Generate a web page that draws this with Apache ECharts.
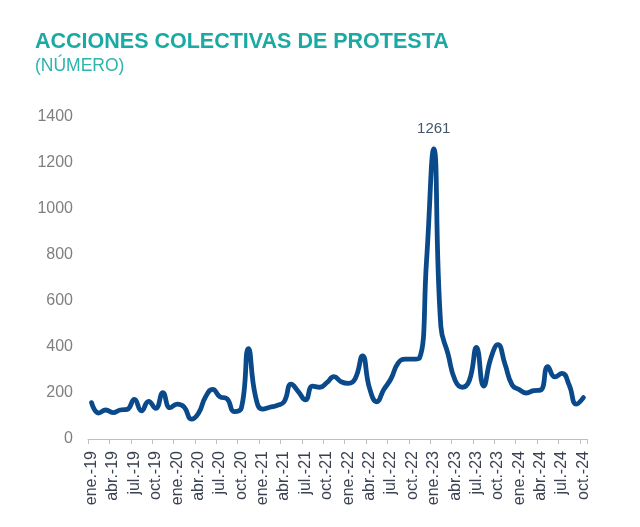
<!DOCTYPE html>
<html>
<head>
<meta charset="utf-8">
<script src="https://cdn.jsdelivr.net/npm/echarts@6/dist/echarts.min.js"></script>
<style>
html,body{margin:0;padding:0;background:#fff;}
#c{width:640px;height:527px;}
</style>
</head>
<body>
<div id="c"></div>
<script>
const months = ['ene.','feb.','mar.','abr.','may.','jun.','jul.','ago.','sep.','oct.','nov.','dic.'];
const years = ['19','20','21','22','23','24'];
const categories = [];
for (const y of years) for (const m of months) categories.push(m + '-' + y);
categories.length = 70; // ene.-19 .. oct.-24

const protestas = [
  158,113,126,115,126,129,172,122,164,133,201,136,
  152,139,86,112,184,216,184,175,119,133,393,185,
  130,138,146,162,239,206,170,230,225,245,271,249,
  242,264,361,220,162,215,262,330,347,347,352,780,
  1261,490,370,255,225,255,398,230,350,410,325,235,
  215,200,210,213,315,270,285,235,152,180
];
const yTicks = [0,200,400,600,800,1000,1200,1400];

const chart = echarts.init(document.getElementById('c'), null, {renderer: 'canvas'});
chart.setOption({
  animation: false,
  backgroundColor: '#ffffff',
  title: [
    {text: 'ACCIONES COLECTIVAS DE PROTESTA', left: 30, top: 26,
     textStyle: {color: '#1aa9a3', fontSize: 21.5, fontWeight: 'bold', fontFamily: 'Liberation Sans'}},
    {text: '(NÚMERO)', left: 30, top: 52,
     textStyle: {color: '#2fb3ad', fontSize: 17.5, fontWeight: 'normal', fontFamily: 'Liberation Sans'}}
  ],
  grid: {left: 88, right: 53, top: 117, bottom: 88},
  xAxis: {
    type: 'category',
    data: categories,
    boundaryGap: true,
    axisLine: {lineStyle: {color: '#bfbfbf', width: 1}},
    axisTick: {show: true, interval: 2, length: 5, lineStyle: {color: '#bfbfbf'}},
    axisLabel: {interval: 2, rotate: 90, color: '#3a4150', fontSize: 16, margin: 12, fontFamily: 'Liberation Sans'},
    splitLine: {show: false}
  },
  yAxis: {
    type: 'value',
    min: yTicks[0], max: yTicks[yTicks.length-1], interval: 200,
    axisLine: {show: false},
    axisTick: {show: false},
    splitLine: {show: false},
    axisLabel: {color: '#7f7f7f', fontSize: 16, margin: 15, fontFamily: 'Liberation Sans',
                formatter: v => String(v)}
  },
  series: [{
    type: 'line',
    data: protestas,
    smooth: 0.5,
    symbol: 'none',
    lineStyle: {color: '#0b4a8a', width: 4.8, cap: 'round', join: 'round'},
    itemStyle: {color: '#0b4a8a'},
    markPoint: {
      symbol: 'circle',
      symbolSize: 1,
      itemStyle: {color: 'rgba(0,0,0,0)'},
      label: {show: true, position: 'top', distance: 12, formatter: p => String(p.value),
              color: '#44546a', fontSize: 15, fontFamily: 'Liberation Sans'},
      data: [{type: 'max'}]
    }
  }]
});
</script>
</body>
</html>
